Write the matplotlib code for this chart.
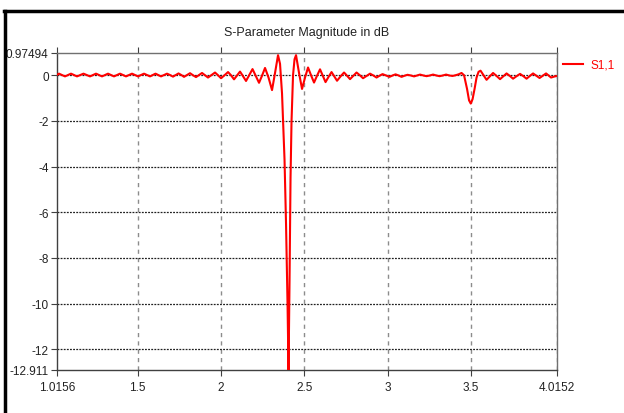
import matplotlib
matplotlib.use("Agg")
import matplotlib.pyplot as plt
from matplotlib.lines import Line2D

plt.rcParams['font.family'] = ['Liberation Sans', 'DejaVu Sans']

freq_ghz = [
    1.0156, 1.0276, 1.0456, 1.0636, 1.0816, 1.0996, 1.1176, 1.1356, 1.1554, 1.1746,
    1.1944, 1.2136, 1.2316, 1.2496, 1.2676, 1.2856, 1.3036, 1.3216, 1.3396, 1.3576,
    1.3756, 1.3936, 1.4116, 1.4296, 1.4476, 1.4656, 1.4836, 1.5016, 1.5196, 1.5376,
    1.5556, 1.5736, 1.5904, 1.6066, 1.6234, 1.6396, 1.6576, 1.6756, 1.6936, 1.7116,
    1.7284, 1.7446, 1.7614, 1.7776, 1.7956, 1.8136, 1.8316, 1.8496, 1.8676, 1.8856,
    1.9036, 1.9216, 1.9426, 1.9636, 1.9816, 1.9996, 2.0206, 2.0416, 2.0596, 2.0776,
    2.0956, 2.1136, 2.1316, 2.1496, 2.1694, 2.1886, 2.2084, 2.2276, 2.2456, 2.2636,
    2.2846, 2.3056, 2.3236, 2.3416, 2.3536, 2.3656, 2.3746, 2.3806, 2.3896, 2.3986,
    2.4046, 2.4106, 2.4166, 2.4226, 2.4316, 2.4406, 2.4496, 2.4676, 2.4856, 2.5036,
    2.5216, 2.5396, 2.5576, 2.5756, 2.5936, 2.6104, 2.6266, 2.6446, 2.6626, 2.6794,
    2.6956, 2.7166, 2.7376, 2.7556, 2.7736, 2.7934, 2.8126, 2.8324, 2.8516, 2.8726,
    2.8936, 2.9134, 2.9326, 2.9506, 2.9686, 2.9896, 3.0106, 3.0286, 3.0466, 3.0646,
    3.0826, 3.1006, 3.1186, 3.1384, 3.1576, 3.1756, 3.1936, 3.2134, 3.2326, 3.2524,
    3.2716, 3.2914, 3.3106, 3.3304, 3.3496, 3.3694, 3.3886, 3.4066, 3.4246, 3.4426,
    3.4576, 3.4756, 3.4876, 3.4978, 3.5086, 3.5206, 3.5326, 3.5446, 3.5566, 3.5746,
    3.5926, 3.6124, 3.6316, 3.6526, 3.6736, 3.6934, 3.7126, 3.7324, 3.7516, 3.7726,
    3.7936, 3.8134, 3.8326, 3.8524, 3.8716, 3.8914, 3.9106, 3.9304, 3.9496, 3.9646,
    3.9796, 3.9976, 4.0152,
]

s11_db = [
    0.02, 0.07, 0.01, -0.05, 0.01, 0.07, 0.01, -0.05, 0.01, 0.07,
    0.01, -0.05, 0.01, 0.07, 0.01, -0.05, 0.01, 0.07, 0.01, -0.05,
    0.01, 0.07, 0.01, -0.05, 0.01, 0.07, 0.01, -0.05, 0.01, 0.07,
    0.01, -0.05, 0.01, 0.07, 0.01, -0.05, 0.01, 0.07, 0.01, -0.06,
    0.01, 0.08, 0.01, -0.07, 0.01, 0.09, 0.0, -0.08, 0.01, 0.10,
    0.0, -0.10, 0.01, 0.12, 0.0, -0.13, 0.0, 0.14, 0.0, -0.18,
    -0.01, 0.16, -0.04, -0.25, 0.01, 0.27, -0.03, -0.33, -0.02, 0.32,
    -0.1, -0.65, 0.1, 0.88, 0.5, -0.8, -2.5, -3.7, -6.5, -10.0,
    -12.911, -9.0, -4.5, -2.0, 0.0, 0.7, 0.88, 0.1, -0.6, -0.1,
    0.34, 0.0, -0.32, -0.02, 0.26, -0.02, -0.3, -0.07, 0.14, -0.05,
    -0.24, -0.05, 0.12, -0.02, -0.17, -0.02, 0.12, 0.0, -0.13, -0.03,
    0.07, -0.01, -0.1, -0.02, 0.05, -0.01, -0.07, -0.01, 0.04, -0.01,
    -0.07, -0.02, 0.02, -0.01, -0.05, -0.01, 0.03, -0.01, -0.04, -0.01,
    0.03, -0.01, -0.04, -0.01, 0.03, -0.01, -0.03, 0.0, 0.04, 0.1,
    0.0, -0.6, -1.1, -1.24, -1.05, -0.6, -0.1, 0.15, 0.2, 0.0,
    -0.2, -0.05, 0.1, -0.03, -0.17, -0.04, 0.08, -0.03, -0.15, -0.04,
    0.06, -0.04, -0.15, -0.03, 0.08, -0.02, -0.12, -0.02, 0.08, -0.01,
    -0.1, -0.06, -0.03,
]

x_ticks = [1.0156, 1.5, 2, 2.5, 3, 3.5, 4.0152]
x_tick_labels = ['1.0156', '1.5', '2', '2.5', '3', '3.5', '4.0152']
y_ticks = [0.97494, 0, -2, -4, -6, -8, -10, -12, -12.911]
y_tick_labels = ['0.97494', '0', '-2', '-4', '-6', '-8', '-10', '-12', '-12.911']
x_grid = [1.5, 2, 2.5, 3, 3.5, 4.0152]
y_grid = [0, -2, -4, -6, -8, -10, -12]

W, H = 624, 414
fig = plt.figure(figsize=(W / 100, H / 100), dpi=100)
fig.patch.set_facecolor('white')
ax = fig.add_axes([57 / W, 1 - 371 / H, 500 / W, 317 / H])

xmin, xmax = x_ticks[0], x_ticks[-1]
ymin, ymax = y_ticks[-1], y_ticks[0]
ax.set_xlim(xmin, xmax)
ax.set_ylim(ymin, ymax)

for gx in x_grid:
    ax.axvline(gx, color='#8c8c8c', lw=1.0, ls=(0, (3, 3)), zorder=1)
for gy in y_grid:
    ax.axhline(gy, color='#202020', lw=0.9, ls=(0, (1.5, 1)), zorder=1)

ax.plot(freq_ghz, s11_db, color='#ff0000', lw=1.5, zorder=3, label='S1,1',
        solid_joinstyle='round')

ax.set_xticks(x_ticks)
ax.set_xticklabels(x_tick_labels)
ax.set_yticks(y_ticks)
ax.set_yticklabels(y_tick_labels)
ax.tick_params(axis='both', direction='out', length=4, width=0.8,
               color='#404040', labelsize=8.5, labelcolor='#222222', pad=2)
ax.tick_params(axis='x', top=True, pad=4)

for side in ['left', 'bottom']:
    ax.spines[side].set_color('#404040')
    ax.spines[side].set_linewidth(1.0)
for side in ['top', 'right']:
    ax.spines[side].set_color('#707070')
    ax.spines[side].set_linewidth(1.0)

ax.set_title('S-Parameter Magnitude in dB', fontsize=9, color='#222222', pad=13)
ax.set_xlabel('Frequency / GHz', fontsize=8.5, color='#222222', labelpad=14)

leg = ax.legend(loc='upper left', bbox_to_anchor=(563 / W, 1 - 60 / H),
                bbox_transform=fig.transFigure, frameon=False, fontsize=8.5,
                handlelength=1.7, handletextpad=0.6, borderpad=0, borderaxespad=0)
for t in leg.get_texts():
    t.set_color('#ff0000')

# window frame (left and top black border)
fig.add_artist(Line2D([5 / W, 5 / W], [0, 1 - 12 / H], transform=fig.transFigure,
                      color='black', lw=2.5))
fig.add_artist(Line2D([4 / W, 1], [1 - 12 / H, 1 - 12 / H], transform=fig.transFigure,
                      color='black', lw=2.5))

fig.savefig('out.png', dpi=100, facecolor='white')
